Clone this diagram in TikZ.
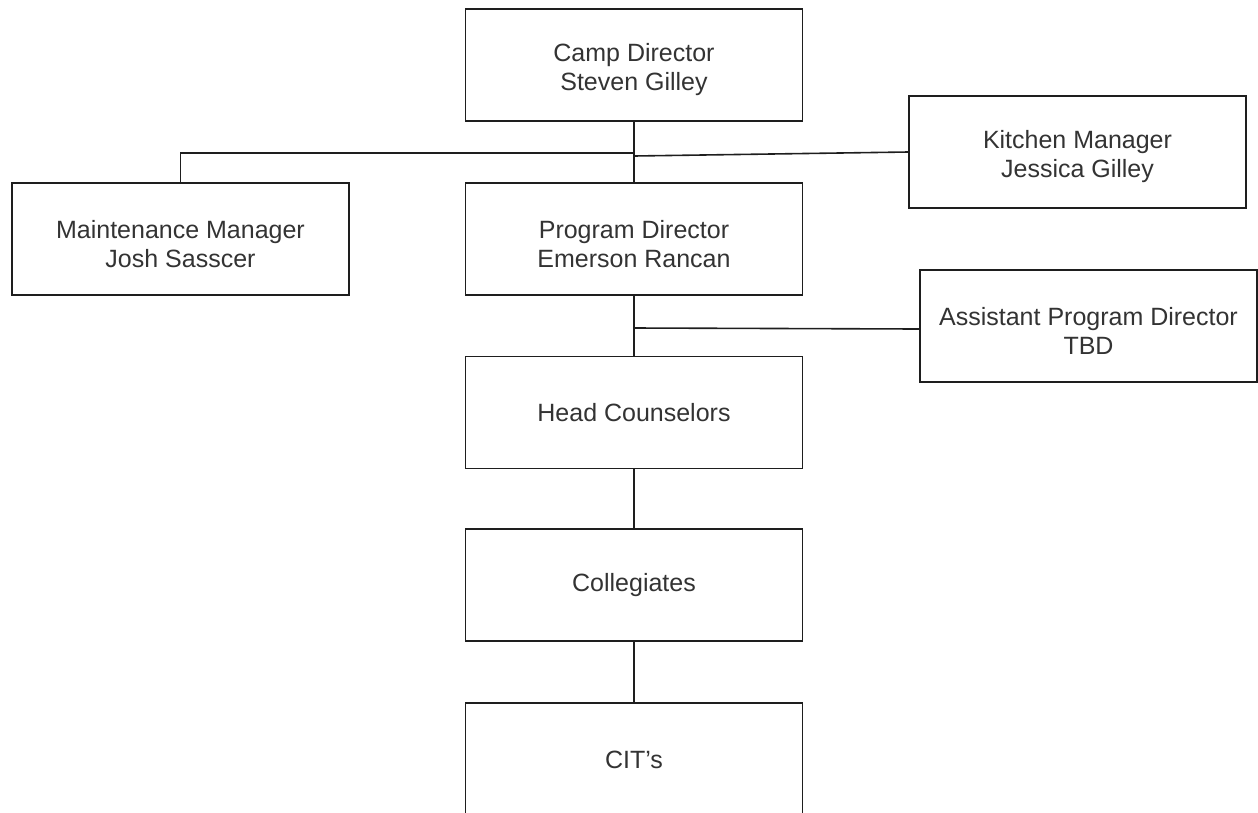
\documentclass[tikz,border=0pt]{standalone}
\usepackage{fontspec}
\setmainfont{Liberation Sans}
\definecolor{txt}{HTML}{333333}
\definecolor{ln}{HTML}{1E1E1E}
\begin{document}
\begin{tikzpicture}[x=1pt,y=-1pt,
  box/.style={draw=ln, line width=1.6pt, minimum width=337pt, minimum height=112pt,
    inner sep=0pt, align=center, text=txt, font=\fontsize{25}{29}\selectfont},
  twol/.style={label={[align=center, text=txt, font=\fontsize{25}{29}\selectfont, inner sep=0pt, yshift=-5pt]center:#1}},
  conn/.style={draw=ln, line width=1.6pt}]
\useasboundingbox (0,0) rectangle (1258,812);
\clip (0,0) rectangle (1258,812);
\node[box, twol={Camp Director\\Steven Gilley}] (cd)  at (634,65) {};
\node[box, twol={Kitchen Manager\\Jessica Gilley}] (km)  at (1077.5,152) {};
\node[box, twol={Maintenance Manager\\Josh Sasscer}] (mm)  at (180.5,239) {};
\node[box, twol={Program Director\\Emerson Rancan}] (pd)  at (634,239) {};
\node[box, twol={Assistant Program Director\\TBD}] (apd) at (1088.5,326) {};
\node[box] (hc)  at (634,412.5) {Head Counselors};
\node[box] (col) at (634,585)   {Collegiates};
\node[box, minimum height=114pt] (cit) at (634,760) {CIT's};
\coordinate (j1) at (634,153);
\coordinate (j2) at (634,156);
\coordinate (j3) at (634,328);
\draw[conn] (cd.south) -- (pd.north);
\draw[conn] (j1) -| (mm.north);
\draw[conn] (j2) -- (km.west);
\draw[conn] (j3) -- ([yshift=-3pt]apd.west);
\draw[conn] (pd.south) -- (hc.north);
\draw[conn] (hc.south) -- (col.north);
\draw[conn] (col.south) -- (cit.north);
\end{tikzpicture}
\end{document}
